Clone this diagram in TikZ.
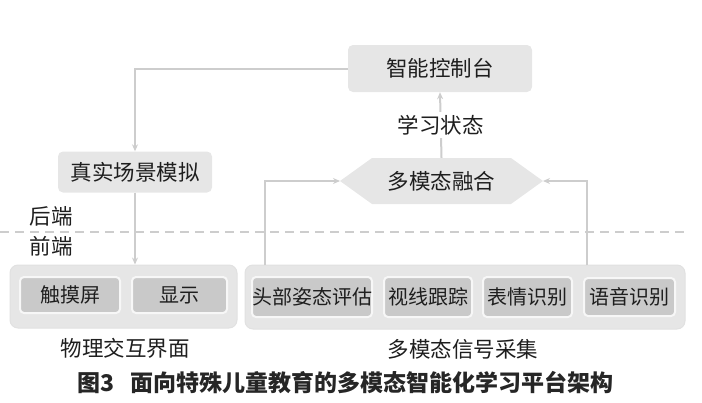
\documentclass[tikz,border=0pt]{standalone}
\usepackage{fontspec}
\setmainfont{Noto Sans CJK SC}
\usetikzlibrary{arrows.meta}
\definecolor{linegray}{HTML}{CDCDCD}
\definecolor{boxgray}{HTML}{E6E6E6}
\definecolor{innergray}{HTML}{C9C9C9}
\definecolor{txt}{HTML}{1E1E1E}
\tikzset{
  conn/.style={draw=linegray, line width=2pt},
  arr/.style={conn, -{Stealth[length=7pt,width=6pt]}},
  topbox/.style={fill=boxgray, rounded corners=5pt, inner sep=0pt, font=\fontsize{21.5}{23}\selectfont, text=txt},
  group/.style={fill=boxgray, draw=boxgray!80!linegray, line width=1pt, rounded corners=8pt, inner sep=0pt},
  inner/.style={fill=innergray, draw=white!85!innergray, line width=2pt, rounded corners=4pt, inner sep=0pt, font=\fontsize{20}{22}\selectfont, text=txt},
  lbl/.style={font=\fontsize{21.5}{23}\selectfont, text=txt, inner sep=1pt},
}
\begin{document}
\begin{tikzpicture}[x=1pt,y=-1pt]
\useasboundingbox (0,0) rectangle (702,402);
% dashed separator
\draw[linegray, line width=1.5pt, dash pattern=on 9pt off 6pt] (0,232) -- (688,232);
% top nodes
\node[topbox, minimum width=184pt, minimum height=47pt] (ctrl) at (440,68.5) {智能控制台};
\node[topbox, minimum width=154pt, minimum height=41pt] (sim) at (135,172) {真实场景模拟};
% hexagon fusion
\fill[boxgray] (340,181) -- (372,158) -- (511,158) -- (543,181) -- (511,204) -- (372,204) -- cycle;
\node[lbl, minimum width=139pt, minimum height=46pt] (fuse) at (441.5,181) {多模态融合};
\coordinate (fuseL) at (340,181);
\coordinate (fuseR) at (543,181);
% labels
\node[lbl] (back) at (51,216) {后端};
\node[lbl] (front) at (51,246) {前端};
% groups
\node[group, minimum width=227pt, minimum height=63pt] (phys) at (123.5,296.5) {};
\node[group, minimum width=440pt, minimum height=64pt] (mm) at (465,297) {};
\node[inner, minimum width=100pt, minimum height=36pt] (touch) at (70,295) {触摸屏};
\node[inner, minimum width=95pt, minimum height=36pt] (disp) at (179.5,295) {显示};
\node[inner, minimum width=120pt, minimum height=40pt] (head) at (312,297) {头部姿态评估};
\node[inner, minimum width=88pt, minimum height=40pt] (gaze) at (428,297) {视线跟踪};
\node[inner, minimum width=89pt, minimum height=40pt] (face) at (527.5,297) {表情识别};
\node[inner, minimum width=91pt, minimum height=38pt] (voice) at (629.5,297) {语音识别};
\node[lbl] (physl) at (125,348) {物理交互界面};
\node[lbl] (mml) at (463,349) {多模态信号采集};
% connectors
\draw[arr] (ctrl.west) -| (sim.north);
\draw[arr] (sim.south) -- (sim.south |- phys.north);
\coordinate (mmL) at (265,265);
\coordinate (mmR) at (587,265);
\draw[arr] (mmL) |- (fuseL);
\draw[arr] (mmR) |- (fuseR);
\draw[arr] (fuse.north) -- (ctrl.south) node[midway, lbl, fill=white, inner sep=3pt] (state) {学习状态};
% caption
\node[font=\fontsize{23}{25}\selectfont\bfseries, text=black!85] (cap) at (346,383) {图3\hspace{16pt}面向特殊儿童教育的多模态智能化学习平台架构};
\end{tikzpicture}
\end{document}
